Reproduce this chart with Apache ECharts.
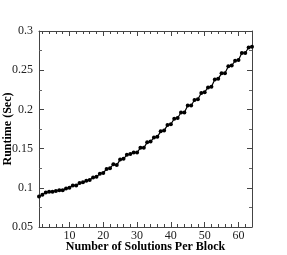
<!DOCTYPE html>
<html><head><meta charset="utf-8">
<script src="https://cdn.jsdelivr.net/npm/echarts@6/dist/echarts.min.js"></script>
<style>html,body{margin:0;padding:0;background:#fff}#c{width:287px;height:255px}</style>
</head><body><div id="c"></div>
<script>
const solutions = [1,2,3,4,5,6,7,8,9,10,11,12,13,14,15,16,17,18,19,20,21,22,23,24,25,26,27,28,29,30,31,32,33,34,35,36,37,38,39,40,41,42,43,44,45,46,47,48,49,50,51,52,53,54,55,56,57,58,59,60,61,62,63,64];
const runtime = [0.089,0.091,0.094,0.095,0.095,0.096,0.097,0.097,0.099,0.100,
  0.103,0.103,0.106,0.107,0.109,0.110,0.113,0.114,0.118,0.119,
  0.124,0.125,0.130,0.129,0.136,0.137,0.142,0.143,0.145,0.145,
  0.151,0.151,0.158,0.159,0.164,0.165,0.172,0.173,0.180,0.181,
  0.188,0.189,0.196,0.196,0.205,0.205,0.212,0.213,0.221,0.222,
  0.228,0.229,0.238,0.239,0.246,0.246,0.255,0.256,0.262,0.263,
  0.272,0.272,0.279,0.280];
const xMajor = [10,20,30,40,50,60];
const xMinor = [2,4,6,8,12,14,16,18,22,24,26,28,32,34,36,38,42,44,46,48,52,54,56,58,62,64];
const xName = 'Number of Solutions Per Block';
const yName = 'Runtime (Sec)';

const font = 'Liberation Serif';
const lineStyle = {color:'#444', width:1};
function xAx(pos, ticks, len, labels, line){
  return {type:'value', position:pos, min:1, max:64,
    axisLine:{show:line, lineStyle},
    axisTick:{show:true, inside:true, length:len, customValues:ticks, lineStyle},
    axisLabel:{show:labels, customValues:ticks, color:'#222', fontFamily:font, fontSize:12, margin:3},
    splitLine:{show:false}};
}
function yAx(pos, labels){
  return {type:'value', position:pos, min:0.05, max:0.3, interval:0.05,
    axisLine:{show:true, lineStyle},
    axisTick:{show:true, inside:true, length:5, lineStyle},
    minorTick:{show:true, splitNumber:2, length:3, lineStyle:{color:'#666', width:1}},
    axisLabel:{show:labels, color:'#222', fontFamily:font, fontSize:12, margin:6,
      formatter:v=>String(+v.toFixed(2))},
    splitLine:{show:false}};
}
const xs = [xAx('bottom', xMajor, 5, true, true), xAx('bottom', xMinor, 3, false, false),
            xAx('top', xMajor, 5, false, true), xAx('top', xMinor, 3, false, false)];
xs[0].name = xName; xs[0].nameLocation='middle'; xs[0].nameGap=14; xs[0].nameMoveOverlap=false;
xs[0].nameTextStyle={color:'#000', fontFamily:font, fontSize:12, fontWeight:'bold'};
const ys = [yAx('left', true), yAx('right', false)];
ys[0].name = yName; ys[0].nameLocation='middle'; ys[0].nameGap=25; ys[0].nameMoveOverlap=false;
ys[0].nameTextStyle={color:'#000', fontFamily:font, fontSize:12, fontWeight:'bold'};

const chart = echarts.init(document.getElementById('c'), null, {renderer:'canvas'});
chart.setOption({
  animation:false,
  grid:{left:39, right:35, top:31, bottom:28, containLabel:false, outerBoundsMode:'none'},
  xAxis: xs,
  yAxis: ys,
  series:[{type:'line', xAxisIndex:0, yAxisIndex:0,
    data: solutions.map((s,i)=>[s, runtime[i]]),
    symbol:'circle', symbolSize:4, showSymbol:true,
    itemStyle:{color:'#000'}, lineStyle:{color:'#000', width:1.2}}]
});
</script></body></html>
